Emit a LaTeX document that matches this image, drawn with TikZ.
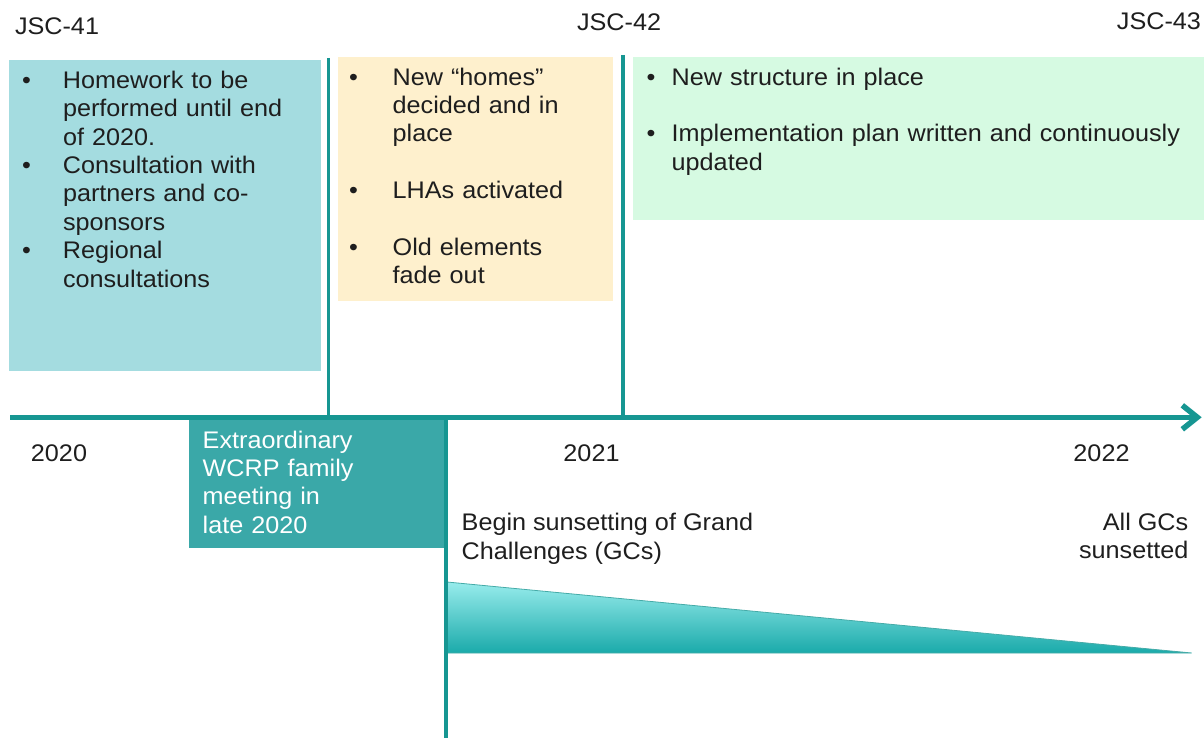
\documentclass[tikz,border=0pt]{standalone}
\usepackage{fontspec}
\setmainfont{Liberation Sans}[FakeStretch=1.05]
\usepackage{xcolor}
\usetikzlibrary{positioning,calc,arrows.meta}
\definecolor{tealline}{RGB}{22,150,146}
\definecolor{boxblue}{RGB}{164,220,224}
\definecolor{boxsand}{RGB}{254,240,205}
\definecolor{boxmint}{RGB}{214,250,226}
\definecolor{boxteal}{RGB}{58,168,168}
\definecolor{wedgetop}{RGB}{152,236,236}
\definecolor{wedgebot}{RGB}{26,170,170}
\definecolor{darktext}{RGB}{30,30,30}
\setlength{\parindent}{0pt}
\newcommand{\bitem}[2]{\noindent\hangindent=#1\hangafter=1\makebox[#1][l]{\textbullet}#2\par}

\begin{document}
\begin{tikzpicture}[x=1pt,y=-1pt,
lbl/.style={font=\fontsize{24pt}{28.4pt}\selectfont,text=darktext,inner sep=0pt,outer sep=0pt},
para/.style={lbl,anchor=north west,align=left},
panel/.style={anchor=north west,inner sep=0pt,outer sep=0pt,draw=none},
divider/.style={draw=tealline,line width=3.3pt},
timeline/.style={draw=tealline,line width=5.5pt,-{Straight Barb[length=15pt,width=24pt]}}]
\useasboundingbox (0,0) rectangle (1204,738);

% panels
\node[panel,fill=boxblue,minimum width=312pt,minimum height=311pt] (homework) at (9,60) {};
\node[panel,fill=boxsand,minimum width=275pt,minimum height=244pt] (homes) at (338,57) {};
\node[panel,fill=boxmint,minimum width=571pt,minimum height=163pt] (structure) at (633,57) {};
\node[panel,fill=boxteal,minimum width=257pt,minimum height=130pt] (meeting) at (189,418) {};

% panel texts
\node[para,text width=290pt] (homeworktext) at (22,71) {%
\bitem{41pt}{Homework to be\newline performed until end\newline of 2020.}
\bitem{41pt}{Consultation with\newline partners and co-\newline sponsors}
\bitem{41pt}{Regional\newline consultations}};
\node[para,text width=265pt] (homestext) at (349,67.7) {%
\bitem{43.7pt}{New “homes”\newline decided and in\newline place}
\vspace{28.4pt}
\bitem{43.7pt}{LHAs activated}
\vspace{28.4pt}
\bitem{43.7pt}{Old elements\newline fade out}};
\node[para,text width=555pt] (structuretext) at (646.7,67.7) {%
\bitem{25pt}{New structure in place}
\vspace{28.4pt}
\bitem{25pt}{Implementation plan written and continuously\newline updated}};
\node[para,text=white,text width=245pt] (meetingtext) at (202.7,430.7) {Extraordinary\\WCRP family\\meeting in\\late 2020};

% sunsetting wedge
\coordinate (w1) at (447,582);
\coordinate (w2) at (1191.7,653);
\coordinate (w3) at (447,653);
\shade[top color=wedgetop,bottom color=wedgebot,draw=tealline!80,line width=0.8pt] (w1) -- (w2) -- (w3) -- cycle;

% milestones
\node[lbl,anchor=base west] (jsc41) at (15,35) {JSC-41};
\node[lbl,anchor=base west] (jsc42) at (577,30.5) {JSC-42};
\node[lbl,anchor=base east] (jsc43) at (1201,30) {JSC-43};

% years
\node[lbl,anchor=base] (y2020) at (59,461.5) {2020};
\node[lbl,anchor=base] (y2021) at (591.5,461.5) {2021};
\node[lbl,anchor=base] (y2022) at (1101.5,461.5) {2022};

% sunset labels
\node[para] (sunbegin) at (461.7,513.4) {Begin sunsetting of Grand\\Challenges (GCs)};
\node[lbl,anchor=north east,align=right] (sunend) at (1188.3,512.7) {All GCs\\sunsetted};

% dividers and timeline
\coordinate (d1top) at (328.5,58);
\coordinate (d1bot) at (328.5,417);
\coordinate (d2top) at (623,55);
\coordinate (d2bot) at (623,417);
\coordinate (d3top) at (446,417);
\coordinate (d3bot) at (446,738);
\draw[divider] (d1top) -- (d1bot);
\draw[divider] (d2top) -- (d2bot);
\draw[divider,line width=4.3pt] (d3top) -- (d3bot);
\coordinate (t0) at (10,417.3);
\coordinate (t1) at (1201.7,417.3);
\draw[timeline] (t0) -- (t1);
\end{tikzpicture}
\end{document}
